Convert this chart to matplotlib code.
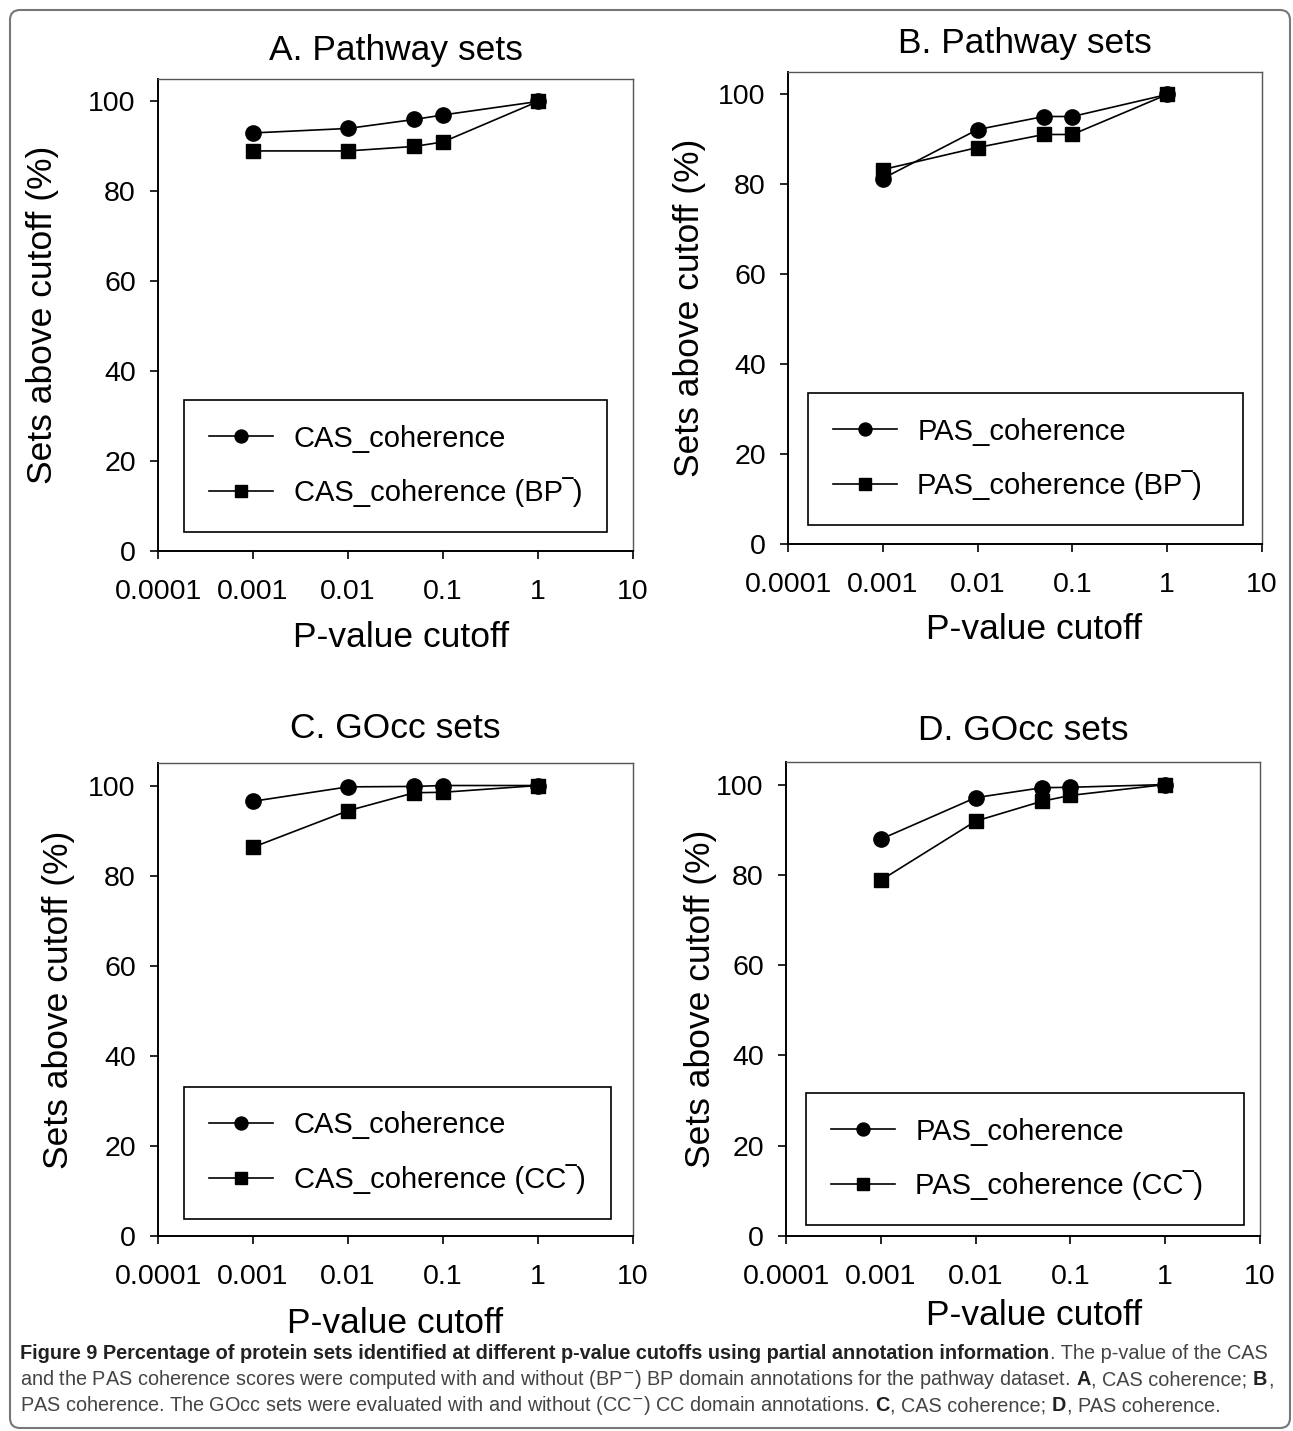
import matplotlib
matplotlib.use("Agg")
import matplotlib.pyplot as plt
from matplotlib.patches import FancyBboxPatch

plt.rcParams['font.family'] = ['Liberation Sans', 'DejaVu Sans']

# p-value cutoffs (x) shared by every panel
pvals = [0.001, 0.01, 0.05, 0.1, 1]

# A. Pathway sets
a_cas = [93, 94, 96, 97, 100]
a_cas_bp = [89, 89, 90, 91, 100]
# B. Pathway sets
b_pas = [81.3, 92.2, 95.1, 95.1, 100]
b_pas_bp = [83.3, 88.2, 91.1, 91.1, 100]
# C. GOcc sets
c_cas = [96.5, 99.7, 99.8, 100, 100]
c_cas_cc = [86.3, 94.4, 98.4, 98.5, 100]
# D. GOcc sets
d_pas = [87.9, 97.1, 99.3, 99.4, 100]
d_pas_cc = [78.8, 91.9, 96.3, 97.6, 100]

xticks = [0.0001, 0.001, 0.01, 0.1, 1, 10]
xticklabels = ['0.0001', '0.001', '0.01', '0.1', '1', '10']
yticks = [0, 20, 40, 60, 80, 100]

OVL = '\u203e'

W, H = 1293, 1431
fig = plt.figure(figsize=(W / 100, H / 100), dpi=100)

# outer rounded frame
frame = FancyBboxPatch((10, 3), 1280, 1418, boxstyle="round,pad=0,rounding_size=10",
                       transform=None, fill=False, edgecolor='#777777', linewidth=1.5)
fig.patches.append(frame)


def px_axes(l, t, r, b):
    return fig.add_axes([l / W, 1 - b / H, (r - l) / W, (b - t) / H])


panels = [
    # rect, title, pad, series1, series2, labels, legend box, ylabel x, xlabel xy
    ((158, 79, 633, 551), 'A. Pathway sets', 14, a_cas, a_cas_bp,
     ['CAS_coherence', 'CAS_coherence (BP' + OVL + ')'],
     (0.055, 0.040, 0.890, 0.295), -0.243, (0.512, -0.184)),
    ((788, 72, 1262, 544), 'B. Pathway sets', 14, b_pas, b_pas_bp,
     ['PAS_coherence', 'PAS_coherence (BP' + OVL + ')'],
     (0.042, 0.040, 0.918, 0.299), -0.207, (0.519, -0.182)),
    ((158, 763, 633, 1236), 'C. GOcc sets', 18, c_cas, c_cas_cc,
     ['CAS_coherence', 'CAS_coherence (CC' + OVL + ')'],
     (0.055, 0.036, 0.899, 0.296), -0.21, (0.50, -0.184)),
    ((786, 762, 1260, 1236), 'D. GOcc sets', 16, d_pas, d_pas_cc,
     ['PAS_coherence', 'PAS_coherence (CC' + OVL + ')'],
     (0.042, 0.023, 0.924, 0.304), -0.181, (0.523, -0.167)),
]

for rect, title, pad, s1, s2, labels, legbox, ylx, xlxy in panels:
    ax = px_axes(*rect)
    ax.plot(pvals, s1, '-', color='black', lw=1.2, marker='o', ms=11, label=labels[0])
    ax.plot(pvals, s2, '-', color='black', lw=1.2, marker='s', ms=9.5, label=labels[1])
    ax.set_xscale('log')
    ax.set_xlim(0.0001, 10)
    ax.set_ylim(0, 105)
    ax.set_xticks(xticks, xticklabels)
    ax.minorticks_off()
    ax.set_yticks(yticks)
    ax.tick_params(axis='both', direction='out', length=6, width=1.2, labelsize=20.5,
                   color='black')
    ax.tick_params(axis='x', pad=14)
    ax.tick_params(axis='y', pad=10)
    for s in ['left', 'bottom']:
        ax.spines[s].set_linewidth(1.4)
        ax.spines[s].set_color('black')
    for s in ['top', 'right']:
        ax.spines[s].set_linewidth(1.0)
        ax.spines[s].set_color('#555555')
    ax.set_title(title, fontsize=25.5, pad=pad)
    ax.set_ylabel('Sets above cutoff (%)', fontsize=25.5, va='center')
    ax.yaxis.set_label_coords(ylx, 0.5)
    ax.set_xlabel('P-value cutoff', fontsize=25.5, va='center')
    ax.xaxis.set_label_coords(*xlxy)
    leg = ax.legend(loc='lower left', bbox_to_anchor=legbox, mode='expand',
                    fontsize=21, frameon=True, fancybox=False, edgecolor='black',
                    handlelength=2.2, handletextpad=0.7, borderpad=0.85,
                    labelspacing=0.85, markerscale=0.85, borderaxespad=0)
    leg.get_frame().set_linewidth(1.2)
    leg.get_frame().set_alpha(None)

# caption, mixing bold and regular runs on each line
cap_font = ['Liberation Sans', 'DejaVu Sans']
cap_size = 14.3
space_px = 0.278 * cap_size * 100 / 72
lines = [
    [("Figure 9 Percentage of protein sets identified at different p-value cutoffs using partial annotation information", True),
     (". The p-value of the CAS", False)],
    [("and the PAS coherence scores were computed with and without (BP$^{-}$) BP domain annotations for the pathway dataset.", False),
     (" A", True), (", CAS coherence;", False), (" B", True), (",", False)],
    [("PAS coherence. The GOcc sets were evaluated with and without (CC$^{-}$) CC domain annotations.", False),
     (" C", True), (", CAS coherence;", False), (" D", True), (", PAS coherence.", False)],
]
line_y = [1359, 1385, 1411]

fig.canvas.draw()
renderer = fig.canvas.get_renderer()
for runs, yb in zip(lines, line_y):
    x = 20.0
    for txt, bold in runs:
        gap = space_px if txt.startswith(' ') else 0
        txt = txt.strip()
        x += gap
        t = fig.text(x / W, 1 - yb / H, txt, fontsize=cap_size, family=cap_font,
                     weight='bold' if bold else 'normal',
                     color='#222222' if bold else '#444444', ha='left', va='baseline')
        x = t.get_window_extent(renderer).x1 + 0.5

fig.savefig('out.png', dpi=100)
